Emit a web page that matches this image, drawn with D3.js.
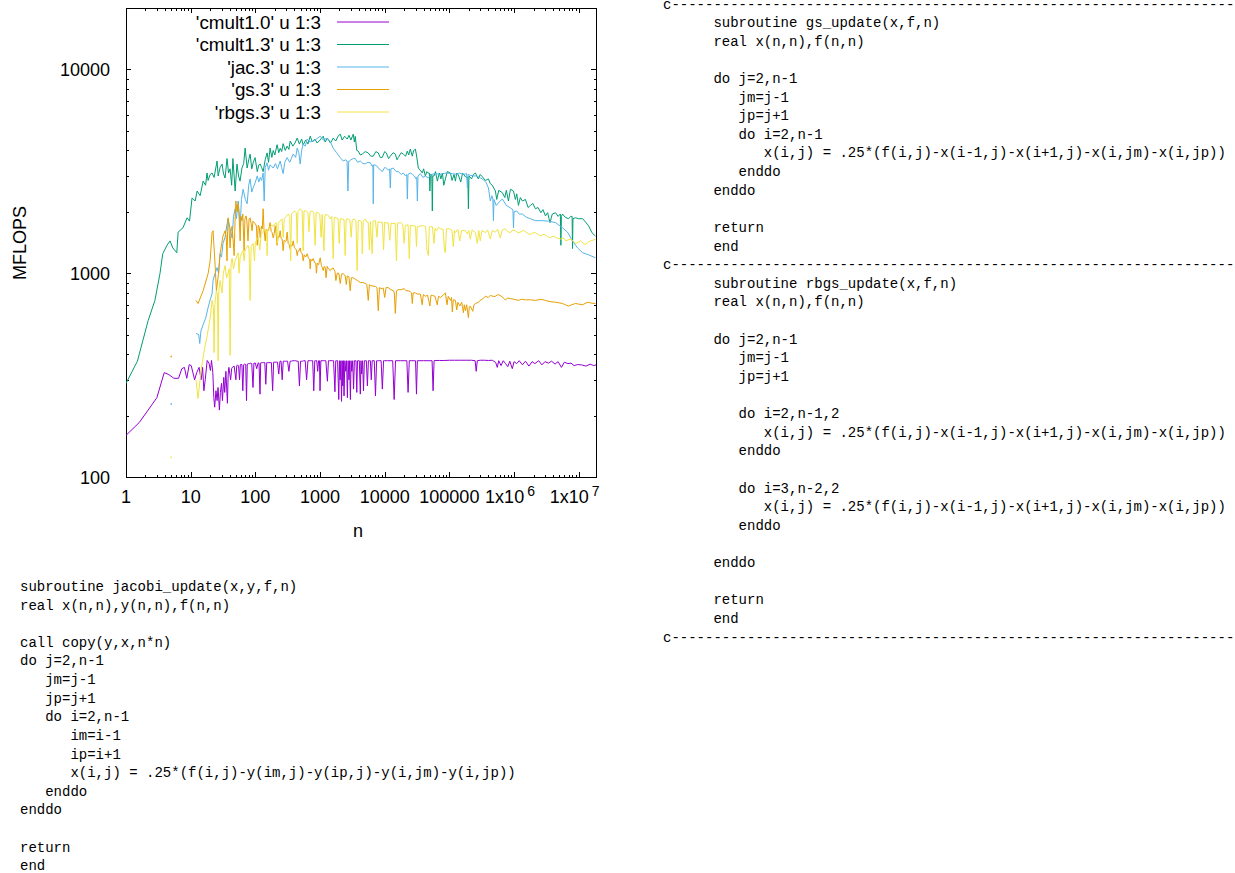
<!DOCTYPE html>
<html lang="en">
<head>
<meta charset="UTF-8">
<title>MFLOPS vs n</title>
<script src="https://cdn.jsdelivr.net/npm/d3@7"></script>
<style>
  body { margin: 0; background: #fff; }
  svg { display: block; }
  .code { font-family: "Liberation Mono", "DejaVu Sans Mono", monospace; font-size: 14px; fill: #000; white-space: pre; }
  .lbl { font-family: "Liberation Sans", Arial, sans-serif; font-size: 18px; fill: #000; }
</style>
</head>
<body>
<svg id="page" width="1235" height="873"></svg>
<script>
// ---- data: [n, MFLOPS] ----
const cmult10 = [[1,160],[1.6,185],[2.2,213],[3.0,245],[3.9,325],[4.6,318],[5.5,305],[6.5,305],[7.3,340],[8.0,345],[8.7,305],[9.5,356],[10.2,352],[11.5,300],[12.4,325],[13.5,345],[14.5,300],[15.3,345],[16,265],[16.8,300],[18,373],[19.2,362],[20.2,333],[21,373],[22,325],[22.8,245],[23.5,220],[24.6,265],[25.6,237],[26.5,275],[27.8,213],[28.8,260],[30,288],[31,237],[32.5,308],[33.6,260],[35,330],[37,230],[38,320],[39,345],[41.5,300],[43,340],[44,345],[47,350],[50,300],[51.5,350],[53,355],[55,350],[57,300],[58.5,355],[60,358],[62,355],[64,265],[66,356],[68,358],[71,356],[73,237],[75,358],[78,360],[82,360],[85,362],[88,360],[92,275],[95,362],[100,362],[105,340],[110,362],[114,362],[118,255],[121,363],[125,364],[130,364],[135,364],[140,364],[145,285],[150,364],[155,364],[162,364],[170,364],[177,364],[185,265],[192,366],[200,366],[210,366],[220,366],[230,320],[240,370],[250,370],[260,300],[270,370],[280,370],[290,370],[300,370],[315,370],[330,330],[345,370],[360,370],[380,372],[400,372],[420,372],[440,370],[460,370],[480,280],[500,370],[520,370],[540,370],[560,372],[590,372],[620,300],[650,372],[680,372],[710,372],[740,372],[770,372],[800,265],[830,372],[860,372],[890,372],[920,330],[950,372],[980,372],[1000,265],[1030,372],[1080,372],[1120,372],[1160,372],[1230,372],[1300,295],[1350,372],[1400,372],[1480,372],[1550,372],[1620,372],[1700,262],[1750,372],[1800,372],[1870,372],[1950,240],[2000,372],[2050,300],[2100,372],[2150,235],[2200,372],[2250,280],[2300,372],[2350,250],[2420,372],[2500,330],[2570,372],[2650,245],[2720,372],[2800,300],[2870,372],[2950,240],[3020,372],[3100,330],[3200,372],[3300,270],[3400,372],[3500,372],[3600,372],[3700,260],[3800,372],[3900,372],[4050,372],[4200,255],[4300,372],[4400,320],[4550,372],[4700,265],[4850,372],[5000,372],[5200,372],[5400,280],[5600,372],[5800,372],[6000,372],[6200,300],[6400,372],[6600,372],[6900,372],[7200,250],[7500,372],[7800,372],[8100,372],[8400,372],[8800,372],[9200,270],[9600,372],[1e4,372],[1.1e4,372],[1.25e4,372],[1.33e4,372],[1.4e4,240],[1.47e4,372],[1.55e4,372],[1.75e4,372],[2e4,372],[2.2e4,372],[2.3e4,260],[2.4e4,372],[2.6e4,372],[2.9e4,372],[3e4,372],[3.1e4,255],[3.2e4,372],[3.4e4,372],[4e4,372],[5e4,372],[5.4e4,372],[5.6e4,265],[5.8e4,372],[6e4,373],[7e4,373],[8.5e4,373],[1e5,374],[1.2e5,374],[1.5e5,374],[1.8e5,374],[2.2e5,374],[2.5e5,372],[2.6e5,330],[2.7e5,372],[3e5,374],[3.5e5,374],[4e5,373],[4.6e5,374],[5.2e5,365],[5.5e5,345],[5.8e5,372],[6.3e5,352],[6.8e5,372],[7.4e5,360],[8e5,348],[8.6e5,370],[9.4e5,340],[1e6,368],[1.1e6,360],[1.2e6,372],[1.35e6,355],[1.5e6,370],[1.7e6,350],[1.9e6,368],[2.1e6,360],[2.4e6,372],[2.7e6,355],[3e6,368],[3.4e6,362],[3.8e6,370],[4.3e6,358],[4.8e6,368],[5.4e6,345],[6e6,366],[6.8e6,360],[7.6e6,362],[8.5e6,352],[9.5e6,356],[1.1e7,355],[1.3e7,350],[1.5e7,358],[1.7e7,352],[1.85e7,355]];

const cmult13 = [[1,288],[1.5,370],[2.2,585],[2.8,735],[3.35,995],[3.7,1245],[4.3,1370],[4.8,1440],[5.3,1330],[6.1,1260],[6.4,1590],[7.6,1670],[8.8,1870],[9.6,1800],[10.5,2340],[11.7,2260],[12.6,2530],[14,2400],[15.6,2830],[17,2700],[17.9,3100],[18.6,2850],[20,3050],[21.4,3100],[23,2950],[25.6,3550],[26.6,3000],[28.5,3300],[30.6,3430],[32,3100],[34,2930],[36.5,3650],[38.5,3100],[40.7,3250],[43,2700],[45,3650],[48.7,2530],[52,3430],[55,3000],[58,2830],[62,3280],[66,3450],[69.5,4110],[74.6,3280],[79,3600],[83,3840],[88,3250],[93,3500],[99,3690],[107,3150],[113,3400],[119,3430],[125,3300],[132,3150],[142,3600],[152,3890],[160,3500],[169,4110],[180,3700],[189,4000],[200,3800],[217,4270],[230,3900],[242,4100],[255,3950],[269,4320],[290,4000],[310,4200],[330,4050],[346,4450],[380,4200],[410,4350],[444,4600],[480,4300],[520,4550],[549,4250],[600,4500],[650,4300],[705,4700],[760,4400],[830,4550],[905,4350],[1000,4500],[1120,4700],[1200,4400],[1300,4600],[1450,4350],[1600,4600],[1750,4450],[1900,4700],[2055,4810],[2200,4500],[2400,4700],[2635,4550],[2800,4750],[3000,4500],[3265,4810],[3400,4400],[3505,4690],[3700,4000],[3900,3970],[4200,3800],[4500,3840],[5000,3950],[5570,3890],[6100,3750],[6660,3750],[7300,3950],[7960,3890],[8500,3700],[9180,3700],[1e4,3950],[1.06e4,3890],[1.15e4,3650],[1.22e4,3750],[1.35e4,3900],[1.46e4,3840],[1.55e4,3600],[1.62e4,3690],[1.8e4,3900],[1.94e4,3840],[2.1e4,3750],[2.24e4,3970],[2.35e4,3800],[2.49e4,4060],[2.67e4,3750],[2.8e4,4000],[2.98e4,4060],[3.1e4,3800],[3.31e4,3280],[3.55e4,3200],[3.82e4,3100],[4e4,3250],[4.25e4,3000],[4.5e4,3150],[4.73e4,3100],[4.9e4,3100],[5e4,2530],[5.1e4,3050],[5.2e4,3050],[5.35e4,3050],[5.45e4,2020],[5.55e4,3000],[5.8e4,3000],[6.1e4,3150],[6.52e4,2830],[7e4,3100],[7.4e4,2900],[7.8e4,3100],[8.2e4,2700],[8.67e4,2900],[9.3e4,3150],[1.04e5,3100],[1.1e5,2850],[1.18e5,3050],[1.24e5,2830],[1.3e5,3100],[1.38e5,3030],[1.5e5,2800],[1.6e5,3100],[1.77e5,2970],[1.93e5,2950],[1.97e5,2070],[2.01e5,3000],[2.2e5,2900],[2.35e5,3050],[2.53e5,3100],[2.8e5,2900],[3.0e5,3050],[3.24e5,2970],[3.6e5,2850],[4.02e5,2900],[4.3e5,2750],[4.6e5,2700],[5.15e5,2530],[5.4e5,2300],[5.8e5,2550],[6.61e5,2480],[7.2e5,2350],[7.6e5,2550],[8.19e5,2260],[8.8e5,2580],[9.8e5,2530],[1.05e6,2300],[1.1e6,2450],[1.17e6,2150],[1.25e6,2350],[1.35e6,2260],[1.5e6,2300],[1.65e6,2100],[1.79e6,2150],[1.95e6,2200],[2.14e6,2070],[2.35e6,2100],[2.6e6,1980],[2.8e6,2050],[3.06e6,1910],[3.3e6,1980],[3.6e6,1770],[3.9e6,1950],[4.38e6,1980],[4.8e6,1900],[5.2e6,1950],[5.3e6,1370],[5.4e6,1900],[5.61e6,1950],[6.2e6,1880],[6.95e6,1850],[7.5e6,1900],[7.9e6,1900],[8.02e6,1320],[8.15e6,1850],[8.92e6,1870],[1e7,1850],[1.15e7,1850],[1.28e7,1780],[1.42e7,1710],[1.6e7,1580],[1.82e7,1520]];

const jac3 = [[12.1,506],[13.3,500],[13.8,452],[14.4,520],[15.6,560],[17,600],[18.6,678],[20,740],[21.4,790],[22.2,920],[23.9,1000],[25.6,1065],[27,1000],[28.5,1245],[30,1200],[31.6,1400],[34,1500],[36.5,1740],[37.9,1845],[40.7,1650],[43.7,1490],[46,1900],[48.7,2070],[51,1850],[54.2,2260],[56,2000],[58.2,1700],[61,2300],[64.7,2580],[70,2300],[74.6,2190],[79,2700],[83,2900],[88,2500],[92.5,2620],[100,2800],[107,3000],[113,2800],[119,2950],[125,2850],[132,3100],[137,2260],[142,3300],[152,3480],[160,3200],[169,3400],[189,3280],[205,3450],[220,3250],[242,3550],[255,3300],[269,3080],[285,3500],[310,3690],[340,3500],[385,3840],[420,3700],[444,4110],[470,3900],[494,3430],[520,4000],[549,4300],[590,4200],[634,4550],[700,4400],[785,4450],[880,4550],[1007,4700],[1120,4500],[1290,4600],[1450,4400],[1600,4110],[1800,3900],[2055,3690],[2285,3550],[2500,3600],[2620,3550],[2700,2530],[2780,3550],[2850,3550],[3000,3600],[3265,3650],[3505,3650],[3800,3500],[4200,3550],[4600,3450],[5010,3440],[5500,3500],[6000,3480],[6400,3350],[6560,3400],[6660,2190],[6760,3400],[6900,3400],[7400,3380],[8200,3250],[9180,3150],[1e4,3300],[1.06e4,3280],[1.14e4,3200],[1.19e4,3250],[1.22e4,2620],[1.25e4,3250],[1.36e4,3280],[1.5e4,3150],[1.62e4,3150],[1.8e4,3050],[1.94e4,3100],[2.1e4,3000],[2.19e4,3050],[2.24e4,2310],[2.29e4,3050],[2.49e4,3100],[2.7e4,3050],[2.88e4,3000],[3.05e4,2900],[3.13e4,2950],[3.2e4,2260],[3.27e4,3000],[3.56e4,3080],[3.9e4,2950],[4.25e4,3000],[4.73e4,2930],[5.3e4,3050],[6.07e4,3080],[7e4,3050],[7.8e4,3080],[9e4,3100],[1.11e5,3080],[1.3e5,3050],[1.45e5,3100],[1.65e5,3050],[1.85e5,3080],[1.9e5,2620],[1.95e5,3050],[2.1e5,3020],[2.35e5,3000],[2.6e5,3000],[2.9e5,2950],[3.24e5,2900],[3.7e5,2780],[4.02e5,2620],[4.3e5,2260],[4.55e5,2400],[4.7e5,2300],[4.8e5,1810],[4.9e5,2300],[5.3e5,2150],[6e5,2250],[6.61e5,2310],[7.6e5,2150],[8.8e5,2090],[9.6e5,2050],[9.8e5,1670],[1e6,2000],[1.1e6,2020],[1.2e6,1950],[1.35e6,1950],[1.55e6,1880],[1.79e6,1850],[2.14e6,1810],[2.76e6,1810],[3.41e6,1800],[4.38e6,1770],[5.61e6,1670],[6.7e6,1590],[8.02e6,1440],[9.6e6,1330],[1.15e7,1260],[1.42e7,1230],[1.82e7,1190]];

const gs3 = [[12.1,735],[13,710],[15.6,821],[18.6,995],[20,1150],[21.4,1580],[22.2,1615],[23.9,1090],[25,820],[27,1000],[28.5,1245],[31.6,1520],[34.1,1615],[35.5,1500],[36.5,1150],[37.2,1600],[37.9,1870],[39,1700],[40.7,1330],[42,1600],[43.7,1700],[45,1500],[47,1220],[48.5,1800],[50,2260],[52,2000],[54.2,2190],[56,1900],[58.2,1440],[60,1900],[62,1810],[64,1950],[67,1290],[69,1850],[72,1910],[74,1800],[77,1440],[80,1850],[83,1870],[86,1750],[89,1615],[92,1800],[96,1770],[100,1750],[104,1700],[107,1370],[111,1720],[115,1680],[119,1490],[124,1700],[128,1650],[132,2070],[136,1650],[142,1440],[147,1640],[152,1615],[160,1620],[169,1770],[176,1600],[182,1580],[189,1490],[196,1570],[203,1710],[210,1550],[217,1370],[225,1520],[233,1500],[242,1615],[250,1480],[260,1470],[269,1290],[278,1450],[290,1430],[300,1440],[310,1590],[322,1400],[334,1380],[346,1310],[358,1370],[370,1360],[385,1440],[400,1340],[415,1320],[430,1300],[444,1220],[460,1290],[475,1290],[494,1330],[510,1260],[530,1250],[549,1150],[570,1230],[600,1200],[634,1245],[660,1190],[690,1170],[705,1050],[720,1170],[750,1150],[785,1180],[820,1130],[860,1120],[880,1000],[905,1120],[950,1100],[1007,1190],[1050,1090],[1080,1070],[1120,1030],[1160,1080],[1200,1070],[1240,950],[1290,1080],[1350,1050],[1440,1030],[1500,1050],[1600,1060],[1700,1020],[1760,920],[1845,1000],[1950,1000],[2055,890],[2150,990],[2285,995],[2450,970],[2550,880],[2635,970],[2800,960],[2930,820],[3050,950],[3265,950],[3500,935],[3800,920],[4000,910],[4200,900],[4600,900],[5010,890],[5300,880],[5570,735],[5800,880],[6000,870],[6600,865],[7200,860],[7600,850],[7960,655],[8300,850],[8800,840],[9500,845],[1e4,760],[1.05e4,850],[1.13e4,850],[1.25e4,830],[1.36e4,821],[1.41e4,800],[1.46e4,635],[1.52e4,820],[1.62e4,830],[1.8e4,830],[2e4,840],[2.15e4,820],[2.3e4,821],[2.5e4,810],[2.6e4,800],[2.67e4,710],[2.75e4,800],[2.98e4,800],[3.2e4,790],[3.56e4,790],[3.8e4,700],[3.95e4,785],[4.25e4,770],[4.6e4,780],[5e4,690],[5.2e4,780],[5.45e4,778],[6e4,770],[6.5e4,700],[6.8e4,770],[7.3e4,760],[8e4,780],[8.67e4,800],[9.2e4,700],[9.6e4,770],[1.04e5,735],[1.08e5,760],[1.11e5,645],[1.15e5,740],[1.24e5,735],[1.3e5,660],[1.35e5,720],[1.45e5,690],[1.55e5,720],[1.65e5,640],[1.7e5,700],[1.77e5,655],[1.85e5,700],[1.97e5,605],[2.03e5,680],[2.1e5,690],[2.3e5,650],[2.4e5,700],[2.53e5,710],[2.8e5,720],[3e5,735],[3.3e5,750],[3.6e5,770],[4e5,760],[4.3e5,778],[4.7e5,770],[5.15e5,770],[5.6e5,785],[6.1e5,778],[6.7e5,760],[7.3e5,740],[8e5,755],[8.8e5,750],[1e6,745],[1.17e6,735],[1.3e6,745],[1.5e6,740],[1.8e6,740],[2.14e6,735],[2.6e6,745],[3.06e6,735],[3.6e6,725],[4.38e6,720],[5e6,715],[5.61e6,710],[6.2e6,700],[6.95e6,690],[7.8e6,700],[8.92e6,710],[1e7,705],[1.15e7,700],[1.3e7,715],[1.42e7,720],[1.6e7,712],[1.82e7,710]];

const rbgs3 = [[12.1,300],[13,243],[14.5,335],[16,408],[18,495],[20,600],[21.4,735],[22.5,680],[23,408],[23.6,700],[25,820],[26,780],[26.6,372],[27.2,820],[28.5,920],[30.6,800],[32,1000],[34,1090],[36,950],[37.9,1000],[39.5,1050],[40.7,395],[42,1100],[43.7,1180],[46,1050],[48.7,1150],[51,1200],[54.2,1260],[56,1000],[58.2,1200],[61,1250],[64.7,1290],[67,1150],[69.5,1300],[73,1330],[77,1370],[80,1300],[83,735],[86,1350],[92.5,1400],[97,1150],[100,1420],[105,1450],[111,1500],[117,1300],[123,1550],[130,1580],[137,1650],[144,1600],[150,1620],[152,1220],[155,1630],[169,1690],[180,1720],[189,1700],[200,1750],[210,1770],[220,1400],[226,1760],[240,1800],[258,1845],[270,1500],[280,1850],[300,1900],[323,1950],[340,1900],[352,1150],[362,1950],[400,2020],[430,1980],[444,1400],[455,2000],[494,2070],[530,2020],[549,1290],[565,2020],[610,2020],[650,1980],[675,1600],[700,2000],[755,2020],[800,1980],[840,1370],[870,1980],[935,1980],[990,1950],[1040,1500],[1080,1940],[1150,1290],[1190,1930],[1290,1935],[1380,1900],[1440,1845],[1520,1900],[1600,1180],[1660,1880],[1780,1870],[1900,1850],[1980,1400],[2050,1850],[2200,1845],[2350,1830],[2450,1220],[2540,1840],[2720,1845],[2900,1820],[3030,1500],[3150,1820],[3380,1845],[3600,1800],[3750,1030],[3900,1810],[4200,1810],[4400,1780],[4500,1245],[4650,1800],[5010,1845],[5300,1780],[5570,1770],[5800,1300],[6000,1790],[6400,1245],[6600,1800],[7200,1810],[7600,1500],[7900,1790],[8600,1770],[9200,1780],[9600,1300],[1e4,1780],[1.05e4,1760],[1.13e4,1770],[1.2e4,1450],[1.25e4,1760],[1.3e4,1750],[1.45e4,1760],[1.52e4,1150],[1.58e4,1760],[1.77e4,1770],[1.9e4,1740],[2e4,1400],[2.08e4,1710],[2.3e4,1730],[2.4e4,1180],[2.5e4,1720],[2.67e4,1710],[3e4,1700],[3.1e4,1350],[3.2e4,1700],[3.31e4,1690],[3.7e4,1710],[3.97e4,1710],[4.3e4,1690],[4.5e4,1300],[4.73e4,1220],[4.9e4,1690],[5.45e4,1690],[5.8e4,1400],[6e4,1660],[6.3e4,1615],[6.8e4,1680],[7.3e4,1650],[8e4,1640],[8.4e4,1300],[8.67e4,1260],[9e4,1650],[1e5,1650],[1.1e5,1620],[1.15e5,1350],[1.2e5,1620],[1.24e5,1580],[1.35e5,1640],[1.45e5,1440],[1.55e5,1620],[1.77e5,1615],[1.9e5,1560],[2e5,1620],[2.1e5,1470],[2.25e5,1630],[2.53e5,1580],[2.7e5,1400],[2.85e5,1620],[3e5,1440],[3.2e5,1620],[3.6e5,1580],[3.9e5,1630],[4.3e5,1470],[4.6e5,1620],[5.15e5,1590],[5.6e5,1640],[6.1e5,1490],[6.6e5,1630],[7.3e5,1650],[8e5,1600],[8.8e5,1580],[9.5e5,1630],[1.05e6,1615],[1.15e6,1580],[1.25e6,1590],[1.4e6,1620],[1.5e6,1600],[1.65e6,1560],[1.79e6,1550],[2e6,1580],[2.14e6,1580],[2.4e6,1540],[2.6e6,1520],[2.8e6,1550],[3.06e6,1540],[3.3e6,1510],[3.6e6,1490],[4e6,1520],[4.38e6,1500],[4.8e6,1480],[5.3e6,1470],[5.8e6,1490],[6.3e6,1440],[7e6,1460],[7.6e6,1470],[8.2e6,1430],[8.92e6,1400],[1e7,1420],[1.07e7,1440],[1.18e7,1400],[1.28e7,1385],[1.4e7,1420],[1.52e7,1440],[1.65e7,1450],[1.82e7,1470]];

// single isolated points at n = 5
const strayPoints = [["gs3", 5, 390], ["jac3", 5, 228], ["rbgs3", 5, 125]];

const seriesNames = ["'cmult1.0' u 1:3", "'cmult1.3' u 1:3", "'jac.3' u 1:3", "'gs.3' u 1:3", "'rbgs.3' u 1:3"];
const seriesKeys = ["cmult10", "cmult13", "jac3", "gs3", "rbgs3"];
const seriesColors = ["#9400d3", "#009e73", "#56b4e9", "#e69f00", "#f0e442"];

const xTickValues = [1, 10, 100, 1000, 1e4, 1e5, 1e6, 1e7];
const xTickLabels = ["1", "10", "100", "1000", "10000", "100000", "1x10^6", "1x10^7"];
const yTickValues = [100, 1000, 10000];
const yTickLabels = ["100", "1000", "10000"];

const codeRight = [
  "c" + "-".repeat(67),
  "      subroutine gs_update(x,f,n)",
  "      real x(n,n),f(n,n)",
  "",
  "      do j=2,n-1",
  "         jm=j-1",
  "         jp=j+1",
  "         do i=2,n-1",
  "            x(i,j) = .25*(f(i,j)-x(i-1,j)-x(i+1,j)-x(i,jm)-x(i,jp))",
  "         enddo",
  "      enddo",
  "",
  "      return",
  "      end",
  "c" + "-".repeat(67),
  "      subroutine rbgs_update(x,f,n)",
  "      real x(n,n),f(n,n)",
  "",
  "      do j=2,n-1",
  "         jm=j-1",
  "         jp=j+1",
  "",
  "         do i=2,n-1,2",
  "            x(i,j) = .25*(f(i,j)-x(i-1,j)-x(i+1,j)-x(i,jm)-x(i,jp))",
  "         enddo",
  "",
  "         do i=3,n-2,2",
  "            x(i,j) = .25*(f(i,j)-x(i-1,j)-x(i+1,j)-x(i,jm)-x(i,jp))",
  "         enddo",
  "",
  "      enddo",
  "",
  "      return",
  "      end",
  "c" + "-".repeat(67)
];

const codeLeft = [
  "subroutine jacobi_update(x,y,f,n)",
  "real x(n,n),y(n,n),f(n,n)",
  "",
  "call copy(y,x,n*n)",
  "do j=2,n-1",
  "   jm=j-1",
  "   jp=j+1",
  "   do i=2,n-1",
  "      im=i-1",
  "      ip=i+1",
  "      x(i,j) = .25*(f(i,j)-y(im,j)-y(ip,j)-y(i,jm)-y(i,jp))",
  "   enddo",
  "enddo",
  "",
  "return",
  "end"
];

const seriesData = { cmult10, cmult13, jac3, gs3, rbgs3 };

// ---- layout ----
const svg = d3.select("#page");
const plot = { left: 126, right: 596, top: 8, bottom: 477 };

const x = d3.scaleLog().domain([1, 1.85e7]).range([plot.left, plot.right]);
const y = d3.scaleLog().domain([100, 20000]).range([plot.bottom, plot.top]);

function minors(lo, hi) {
  const out = [];
  for (let k = Math.floor(Math.log10(lo)); k <= Math.ceil(Math.log10(hi)); k++)
    for (let m = 2; m <= 9; m++) {
      const v = m * Math.pow(10, k);
      if (v > lo && v < hi) out.push(v);
    }
  return out;
}
const xMinor = minors(1, 1.85e7);
const yMinor = minors(100, 20000);

// ticks (inward, mirrored on all sides)
const axes = svg.append("g").attr("shape-rendering", "crispEdges");
function addAxis(axisFn, scale, values, size, tx, ty) {
  axes.append("g")
    .attr("transform", `translate(${tx},${ty})`)
    .call(axisFn(scale).tickValues(values).tickSize(size).tickFormat(""))
    .call(g => g.select(".domain").remove())
    .call(g => g.selectAll("line").attr("stroke", "#000"));
}
addAxis(d3.axisBottom, x, xTickValues, -5, 0, plot.bottom);
addAxis(d3.axisBottom, x, xMinor, -2.5, 0, plot.bottom);
addAxis(d3.axisTop, x, xTickValues, -5, 0, plot.top);
addAxis(d3.axisTop, x, xMinor, -2.5, 0, plot.top);
addAxis(d3.axisLeft, y, yTickValues, -5, plot.left, 0);
addAxis(d3.axisLeft, y, yMinor, -2.5, plot.left, 0);
addAxis(d3.axisRight, y, yTickValues, -5, plot.right, 0);
addAxis(d3.axisRight, y, yMinor, -2.5, plot.right, 0);

axes.append("rect")
  .attr("x", plot.left).attr("y", plot.top)
  .attr("width", plot.right - plot.left).attr("height", plot.bottom - plot.top)
  .attr("fill", "none").attr("stroke", "#000");

// tick labels
const xl = svg.append("g").attr("class", "lbl").attr("text-anchor", "middle");
xTickValues.forEach((v, i) => {
  const parts = xTickLabels[i].split("^");
  const t = xl.append("text").attr("x", x(v) - (parts[1] ? 4 : 0)).attr("y", 503);
  t.append("tspan").text(parts[0]);
  if (parts[1]) t.append("tspan").attr("dx", 3).attr("dy", -7).style("font-size", "14px").text(parts[1]);
});
svg.append("g").attr("class", "lbl").attr("text-anchor", "end")
  .selectAll("text").data(yTickValues).join("text")
  .attr("x", 110).attr("y", d => y(d) + 6.5)
  .text((d, i) => yTickLabels[i]);

svg.append("text").attr("class", "lbl").attr("text-anchor", "middle")
  .attr("x", 358).attr("y", 537).text("n");
svg.append("text").attr("class", "lbl").attr("text-anchor", "middle")
  .attr("transform", "translate(26,243) rotate(-90)").text("MFLOPS");

// series
svg.append("clipPath").attr("id", "clip").append("rect")
  .attr("x", plot.left).attr("y", plot.top)
  .attr("width", plot.right - plot.left).attr("height", plot.bottom - plot.top);

const line = d3.line().x(d => x(d[0])).y(d => y(d[1]));
const lines = svg.append("g").attr("clip-path", "url(#clip)");
seriesKeys.forEach((k, i) => {
  lines.append("path")
    .datum(seriesData[k])
    .attr("d", line)
    .attr("fill", "none")
    .attr("stroke", seriesColors[i])
    .attr("stroke-width", 1)
    .attr("stroke-linejoin", "miter");
});
lines.selectAll("rect.dot").data(strayPoints).join("rect")
  .attr("class", "dot")
  .attr("x", d => x(d[1]) - 0.75).attr("y", d => y(d[2]) - 0.75)
  .attr("width", 1.5).attr("height", 1.5)
  .attr("fill", d => seriesColors[seriesKeys.indexOf(d[0])]);

// legend
const leg = svg.append("g");
seriesNames.forEach((name, i) => {
  const cy = 22 + 22.5 * i;
  leg.append("text").attr("class", "lbl").attr("text-anchor", "end")
    .style("font-size", "18.8px")
    .attr("x", 321).attr("y", cy + 6.5).text(name);
  leg.append("line").attr("x1", 337).attr("x2", 389).attr("y1", cy).attr("y2", cy)
    .attr("stroke", seriesColors[i]).attr("stroke-width", 1);
});

// code listings
function addCode(lines, x0, y0) {
  svg.append("g").selectAll("text").data(lines).join("text")
    .attr("class", "code")
    .attr("xml:space", "preserve")
    .attr("x", x0)
    .attr("y", (d, i) => y0 + 18.62 * i)
    .text(d => d);
}
addCode(codeRight, 663, 8.5);
addCode(codeLeft, 20, 591);
</script>
</body>
</html>
